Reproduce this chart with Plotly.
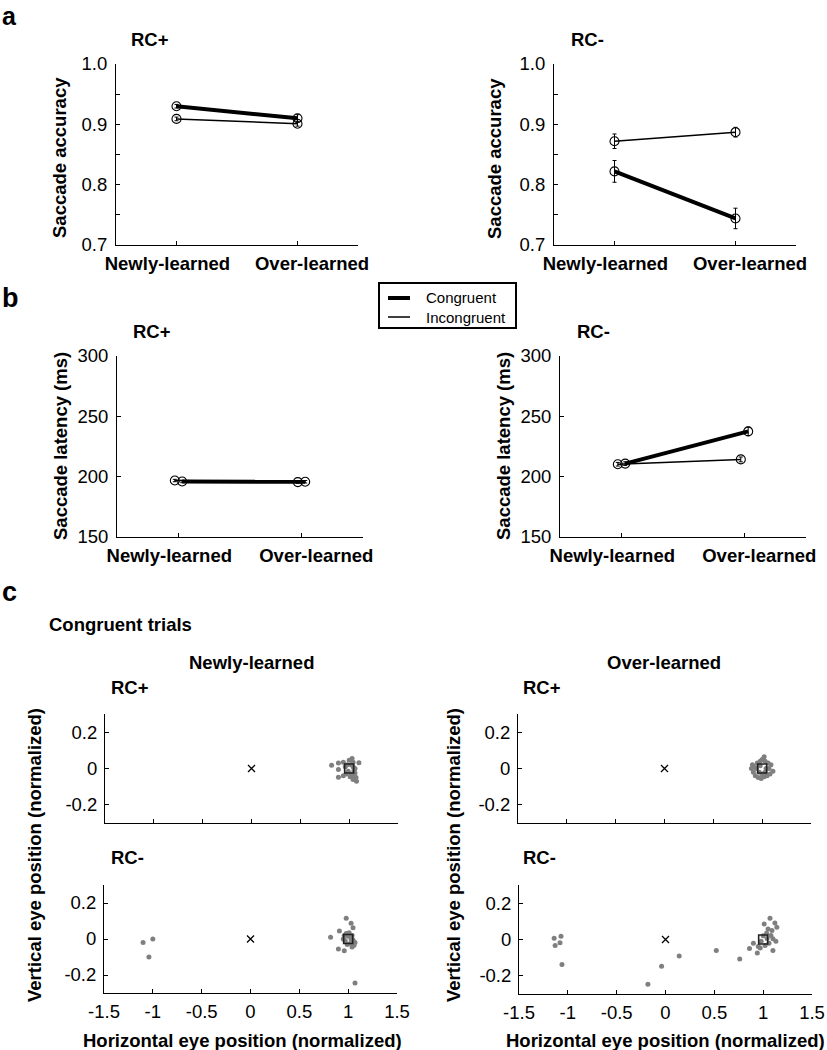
import plotly.graph_objects as go

# ---------------- data ----------------
conditions = ["Newly-learned", "Over-learned"]
series_names = ["Congruent", "Incongruent"]

# Panel a: saccade accuracy
acc_rcp_cong = [0.930, 0.910]
acc_rcp_cong_err = [0.003, 0.006]
acc_rcp_incong = [0.909, 0.901]
acc_rcp_incong_err = [0.003, 0.004]
acc_rcm_cong = [0.822, 0.744]
acc_rcm_cong_err = [0.018, 0.017]
acc_rcm_incong = [0.872, 0.887]
acc_rcm_incong_err = [0.012, 0.008]

# Panel b: saccade latency (ms)
lat_rcp_cong = [196.0, 195.8]
lat_rcp_cong_err = [1.0, 1.0]
lat_rcp_incong = [196.8, 195.5]
lat_rcp_incong_err = [1.0, 1.0]
lat_rcm_cong = [210.8, 237.5]
lat_rcm_cong_err = [1.5, 3.5]
lat_rcm_incong = [210.3, 214.3]
lat_rcm_incong_err = [1.5, 2.0]

# Panel c: normalized eye positions (congruent trials)
nl_rcp_x = [0.82, 0.89, 0.89, 0.89, 0.94, 0.94, 0.97, 0.98, 1.00, 1.03, 1.04, 1.10, 1.02,
            1.04, 1.05, 1.06, 1.05, 1.07, 1.075, 1.04, 1.02, 0.99, 1.06, 1.01, 0.96]
nl_rcp_y = [0.018, 0.030, -0.005, -0.048, 0.035, -0.040, -0.030, 0.020, 0.045, 0.055, 0.035,
            0.032, 0.020, 0.010, -0.010, -0.025, -0.040, -0.050, -0.070, -0.060, -0.030,
            -0.015, 0.000, -0.045, 0.010]
ol_rcp_x = [0.89, 0.90, 0.91, 0.93, 0.95, 0.96, 0.98, 1.00, 1.02, 1.03, 1.06, 1.09, 1.11,
            1.08, 1.05, 1.02, 0.99, 0.97, 1.00, 1.04, 0.94, 1.07, 0.98, 1.03, 0.92]
ol_rcp_y = [0.000, 0.020, -0.020, -0.040, 0.030, -0.050, 0.040, 0.050, 0.065, 0.040, 0.030,
            0.020, -0.015, -0.030, -0.040, -0.045, -0.055, -0.020, -0.030, 0.000, 0.000,
            0.000, 0.015, -0.020, 0.010]
nl_rcm_x = [-1.00, -1.10, -1.04, 0.82, 0.91, 0.98, 1.03, 1.05, 0.90, 0.96, 1.07, 1.07, 1.06,
            0.96, 0.98, 1.01, 1.04, 1.05, 0.97, 0.99, 1.02, 1.04, 0.95, 1.00, 1.03]
nl_rcm_y = [0.000, -0.020, -0.100, 0.010, 0.045, 0.115, 0.088, 0.062, -0.055, -0.065, -0.245,
            -0.020, -0.035, 0.020, 0.030, 0.035, 0.020, -0.005, -0.010, -0.030, -0.025,
            -0.045, 0.000, 0.015, 0.000]
ol_rcm_x = [-1.14, -1.07, -1.13, -1.08, -1.06, -0.18, -0.04, 0.14, 0.52, 0.76, 0.86, 0.90,
            0.94, 0.97, 0.95, 1.02, 1.06, 1.10, 1.13, 1.10, 1.08, 1.035, 1.09, 1.05, 1.14,
            1.01, 1.12, 1.07, 1.00, 1.04, 0.98]
ol_rcm_y = [0.007, 0.018, -0.033, -0.018, -0.137, -0.246, -0.147, -0.091, -0.060, -0.107,
            -0.050, -0.020, -0.075, -0.047, -0.038, -0.033, -0.020, -0.060, -0.010, 0.004,
            0.022, 0.035, 0.049, 0.058, 0.067, 0.086, 0.091, 0.117, 0.020, 0.005, -0.010]

fixation = (0, 0)
target = (1, 0)

x_ticks_c = [-1.5, -1, -0.5, 0, 0.5, 1, 1.5]
x_ticktext_c = ["-1.5", "-1", "-0.5", "0", "0.5", "1", "1.5"]
y_ticks_c = [-0.2, 0, 0.2]
y_ticktext_c = ["-0.2", "0", "0.2"]

# ---------------- layout helpers ----------------
W, H = 827, 1050
FONT = "Liberation Sans, Arial, Helvetica, sans-serif"
TS = 18.5   # text size
LABEL_SHIFT = (-0.075, 0.12)   # category labels sit slightly apart from their ticks


def xd(l, r):
    return [l / W, r / W]


def yd(t, b):
    return [1 - b / H, 1 - t / H]


fig = go.Figure()
layout = dict(
    template="none",
    width=W, height=H, margin=dict(l=0, r=0, t=0, b=0, pad=0, autoexpand=False),
    paper_bgcolor="white", plot_bgcolor="white",
    font=dict(family=FONT, color="black", size=TS),
    showlegend=False,
)

axis_common = dict(showline=True, linecolor="black", linewidth=1, mirror=False,
                   ticks="inside", ticklen=4, tickcolor="black", tickwidth=1,
                   showgrid=False, zeroline=False, automargin=False, tickangle=0,
                   tickfont=dict(family=FONT, size=TS, color="black"))

# axis specs: (idx, xdomain px, ydomain px)
specs = {
    1: ((116, 358), (64, 245)),
    2: ((554, 796), (64, 245)),
    3: ((117, 363), (356, 537)),
    4: ((560, 806), (356, 537)),
    5: ((105, 398), (714, 823)),
    6: ((518, 811), (714, 823)),
    7: ((104, 397), (885, 993)),
    8: ((519, 812), (885, 994)),
}

cat_pos = [k + 1 for k in range(len(conditions))]

for i, ((l, r), (t, b)) in specs.items():
    xa = dict(axis_common, domain=xd(l, r), anchor=f"y{i}")
    ya = dict(axis_common, domain=yd(t, b), anchor=f"x{i}")
    if i <= 4:
        xa.update(range=[0.5, 2.5], ticks="",
                  tickvals=[p + s for p, s in zip(cat_pos, LABEL_SHIFT)],
                  ticktext=[f"<b>{c}</b>" for c in conditions], ticklabelstandoff=2,
                  minor=dict(tickvals=cat_pos, ticks="inside", ticklen=4,
                             tickcolor="black", showgrid=False))
    else:
        xa.update(range=[-1.5, 1.5], tickvals=x_ticks_c, ticktext=x_ticktext_c,
                  showticklabels=(i >= 7), ticklabelstandoff=2)
        ya.update(range=[-0.3, 0.3], tickvals=y_ticks_c, ticktext=y_ticktext_c,
                  ticklabelstandoff=3)
    if i <= 2:
        ya.update(range=[0.7, 1.0], tickvals=[0.7, 0.8, 0.9, 1.0], tickformat=".1f",
                  ticklabelstandoff=4,
                  minor=dict(ticks="inside", dtick=0.05, ticklen=4, tickcolor="black",
                             showgrid=False))
    elif i <= 4:
        ya.update(range=[150, 300], tickvals=[150, 200, 250, 300], ticklabelstandoff=4)
    key = "" if i == 1 else str(i)
    layout[f"xaxis{key}"] = xa
    layout[f"yaxis{key}"] = ya


def axref(i):
    return ("x" if i == 1 else f"x{i}"), ("y" if i == 1 else f"y{i}")


def add_lines(i, name, vals, errs, width, offset):
    xr, yr = axref(i)
    xs = [p + offset for p in cat_pos]
    fig.add_trace(go.Scatter(
        x=xs, y=vals, xaxis=xr, yaxis=yr, mode="lines+markers", name=name,
        line=dict(color="black", width=width),
        marker=dict(symbol="circle-open", size=9, color="black", line=dict(width=1.1)),
        error_y=dict(type="data", array=errs, visible=True, color="black",
                     thickness=1, width=2),
        cliponaxis=False,
    ))


# panel a
add_lines(1, "Incongruent", acc_rcp_incong, acc_rcp_incong_err, 1.5, 0)
add_lines(1, "Congruent", acc_rcp_cong, acc_rcp_cong_err, 4, 0)
add_lines(2, "Incongruent", acc_rcm_incong, acc_rcm_incong_err, 1.5, 0)
add_lines(2, "Congruent", acc_rcm_cong, acc_rcm_cong_err, 4, 0)
# panel b
add_lines(3, "Incongruent", lat_rcp_incong, lat_rcp_incong_err, 1.5, -0.03)
add_lines(3, "Congruent", lat_rcp_cong, lat_rcp_cong_err, 4, 0.03)
add_lines(4, "Incongruent", lat_rcm_incong, lat_rcm_incong_err, 1.5, -0.03)
add_lines(4, "Congruent", lat_rcm_cong, lat_rcm_cong_err, 4, 0.03)

# panel c scatters
for i, (xs, ys) in zip([5, 6, 7, 8], [(nl_rcp_x, nl_rcp_y), (ol_rcp_x, ol_rcp_y),
                                      (nl_rcm_x, nl_rcm_y), (ol_rcm_x, ol_rcm_y)]):
    xr, yr = axref(i)
    fig.add_trace(go.Scatter(x=xs, y=ys, xaxis=xr, yaxis=yr, mode="markers",
                             marker=dict(size=5, color="#7f7f7f", line=dict(width=0))))
    fig.add_trace(go.Scatter(x=[fixation[0]], y=[fixation[1]], xaxis=xr, yaxis=yr,
                             mode="markers",
                             marker=dict(symbol="x-thin-open", size=7, color="black",
                                         line=dict(width=1.3, color="black"))))
    fig.add_trace(go.Scatter(x=[target[0]], y=[target[1]], xaxis=xr, yaxis=yr,
                             mode="markers",
                             marker=dict(symbol="square-open", size=9, color="#222222",
                                         line=dict(width=1.6, color="#222222"))))

# ---------------- legend (drawn as a boxed key) ----------------
shapes = []


def pbox(x0, y0, x1, y1, width):
    shapes.append(dict(type="rect", xref="paper", yref="paper",
                       x0=x0 / W, x1=x1 / W, y0=1 - y1 / H, y1=1 - y0 / H,
                       line=dict(color="black", width=width), fillcolor="white"))


def pline(x0, x1, y, width):
    shapes.append(dict(type="line", xref="paper", yref="paper",
                       x0=x0 / W, x1=x1 / W, y0=1 - y / H, y1=1 - y / H,
                       line=dict(color="black", width=width)))


pbox(379, 283, 516, 328, 2)
pline(388, 410, 298, 4)
pline(388, 410, 317, 1.5)

# ---------------- annotations ----------------
anns = []


def ann(text, x, y, size=TS, bold=True, xanchor="center", yanchor="middle", angle=0):
    anns.append(dict(text=f"<b>{text}</b>" if bold else text, x=x / W, y=1 - y / H,
                     xref="paper", yref="paper", xanchor=xanchor, yanchor=yanchor,
                     showarrow=False, textangle=angle,
                     font=dict(family=FONT, size=size, color="black")))


ann(series_names[0], 424, 298, size=15, bold=False, xanchor="left")
ann(series_names[1], 424, 317, size=15, bold=False, xanchor="left")

ann("a", 0, 0, size=25, xanchor="left", yanchor="top")
ann("b", 0, 298, size=27, xanchor="left")
ann("c", 0, 592, size=27, xanchor="left")

ann("RC+", 150, 39)
ann("RC-", 587, 39)
ann("RC+", 152, 331)
ann("RC-", 593, 331)

ann("Saccade accuracy", 60, 158, angle=-90)
ann("Saccade accuracy", 495, 158, angle=-90)
ann("Saccade latency (ms)", 60, 446, angle=-90)
ann("Saccade latency (ms)", 503, 446, angle=-90)

ann("Congruent trials", 47, 624, xanchor="left")
ann("Newly-learned", 251, 662)
ann("Over-learned", 664, 662)
ann("RC+", 109, 687, xanchor="left")
ann("RC+", 521, 687, xanchor="left")
ann("RC-", 109, 857, xanchor="left")
ann("RC-", 521, 857, xanchor="left")

ann("Vertical eye position (normalized)", 34, 855, angle=-90)
ann("Vertical eye position (normalized)", 453, 855, angle=-90)
ann("Horizontal eye position (normalized)", 243, 1040)
ann("Horizontal eye position (normalized)", 665, 1040)

layout["annotations"] = anns
layout["shapes"] = shapes
fig.update_layout(**layout)

fig.write_html("out.html", config={"displayModeBar": False},
               post_script="document.body.style.margin='0';document.body.style.padding='0';")
